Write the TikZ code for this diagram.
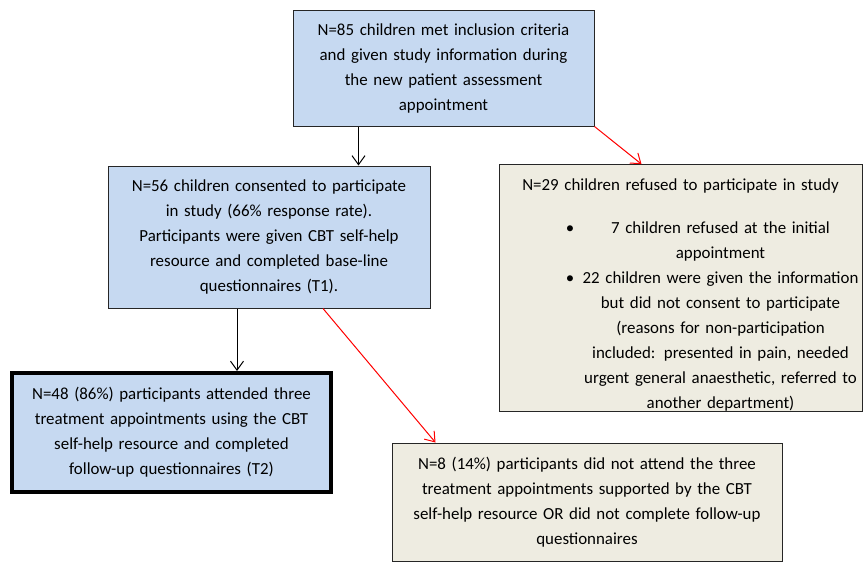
\documentclass[tikz,border=0pt]{standalone}
\usepackage{fontspec}
\setmainfont{Carlito}
\usetikzlibrary{arrows.meta}

\definecolor{boxblue}{HTML}{C6D9F1}
\definecolor{boxbeige}{HTML}{EEECE1}
\newcommand{\flowfont}{\fontsize{16.9}{25}\selectfont}
% one line of the bullet list in the refusal box
\newcommand{\listline}[2]{\par\noindent\hspace*{80pt}\rlap{\hspace*{-9pt}\makebox[0pt]{#1}}\makebox[283pt]{#2}\par}

\begin{document}
\begin{tikzpicture}[x=1pt, y=-1pt,
        flowbox/.style={rectangle, draw=black!85, line width=1pt, inner sep=0pt, align=center, font=\flowfont},
        bluebox/.style={flowbox, fill=boxblue},
        beigebox/.style={flowbox, fill=boxbeige},
        arr/.style={-{Straight Barb[length=9pt,width=13pt]}, line width=1pt},
        redarr/.style={arr, draw=red}]
        \useasboundingbox (0,0) rectangle (864,563);
        % Assessment
        \node[bluebox, text width=301pt, minimum height=116pt] (n85) at (443.5, 68) {N=85 children met inclusion criteria\\ and given study information during\\ the new patient assessment\\ appointment};
        % Consent
        \node[bluebox, text width=322pt, minimum height=142pt] (n56) at (269, 237) {N=56 children consented to participate\\ in study (66\% response rate).\\ Participants were given CBT self-help\\ resource and completed base-line\\ questionnaires (T1).};
        % Refused
        \node[beigebox, text width=363pt, minimum height=244pt] (n29) at (680.5, 288) {\rule{0pt}{26pt}N=29 children refused to participate in study\par\vspace{18pt}
            \listline{\textbullet}{7 children refused at the initial}
            \listline{}{appointment}
            \listline{\textbullet}{22 children were given the information}
            \listline{}{but did not consent to participate}
            \listline{}{(reasons for non-participation}
            \listline{}{included: presented in pain, needed}
            \listline{}{urgent general anaesthetic, referred to}
            \listline{}{another department)}};
        % Follow-up
        \node[bluebox, line width=4pt, draw=black, text width=319pt, minimum height=119pt] (n48) at (171.5, 432.5) {N=48 (86\%) participants attended three\\ treatment appointments using the CBT\\ self-help resource and completed\\ follow-up questionnaires (T2)};
        % Lost
        \node[beigebox, text width=390pt, minimum height=118pt] (n8) at (587, 502) {N=8 (14\%) participants did not attend the three\\ treatment appointments supported by the CBT\\ self-help resource OR did not complete follow-up\\ questionnaires};
        % Connections
        \draw[arr] ([xshift=-85pt]n85.south) -- ([xshift=-85pt]n85.south |- n56.north);
        \draw[arr] ([xshift=-32pt]n56.south) -- ([xshift=-32pt]n56.south |- n48.north);
        \draw[redarr] (n85.south east) -- ([xshift=143pt]n29.north west);
        \draw[redarr] ([xshift=54pt]n56.south) -- ([xshift=44pt]n8.north west);
    \end{tikzpicture}
\end{document}
